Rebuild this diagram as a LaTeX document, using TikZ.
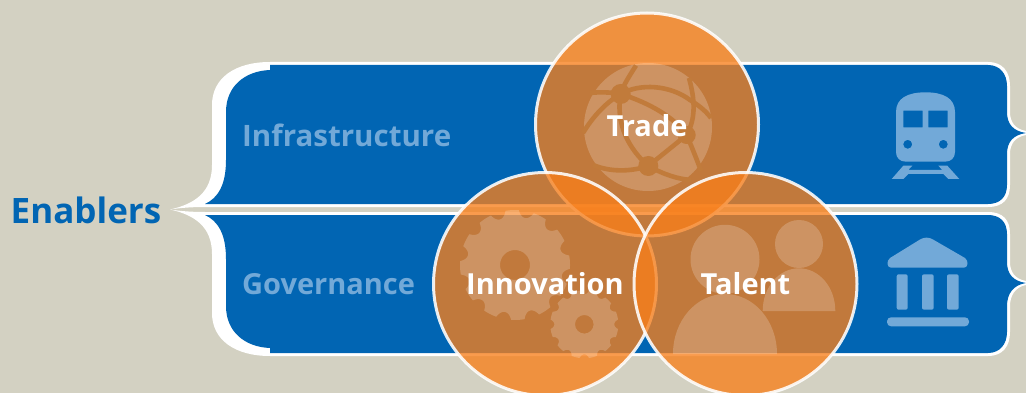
\documentclass[tikz,border=0pt]{standalone}
\usepackage{fontspec}
\setmainfont{Open Sans}[BoldFont={Open Sans Bold}]
\definecolor{bgc}{HTML}{D3D1C2}
\definecolor{bluec}{HTML}{0165B3}
\definecolor{orangec}{HTML}{F87F1B}
\definecolor{overc}{HTML}{C17B3B}
\definecolor{lightc}{HTML}{72A9D8}
\tikzset{
  disc/.style={fill=orangec,fill opacity=.78,draw=white,draw opacity=.88,line width=3pt},
  iconw/.style={fill=white,fill opacity=.2},
  iconb/.style={fill=lightc},
  cut/.style={draw=overc,line width=4.6pt,line cap=butt},
  lab/.style={font=\bfseries,inner sep=0pt,text=white},
  sidelab/.style={font=\bfseries,inner sep=0pt,text=lightc,anchor=west}
}
\begin{document}
\begin{tikzpicture}[x=1pt,y=-1pt]
\useasboundingbox (0,0) rectangle (1026,393);
\clip (0,0) rectangle (1026,393);
\fill[bgc] (0,0) rectangle (1026,393);
% white outlines
\fill[white] (270,62) -- (988,62) .. controls (1003,62) and (1010,72) .. (1010,86) -- (1010,112)
  .. controls (1010,122) and (1015,129) .. (1026,131) -- (1026,135)
  .. controls (1015,137) and (1010,144) .. (1010,154) -- (1010,185)
  .. controls (1010,199) and (1003,207) .. (988,207) -- (205,207)
  .. controls (190,207) and (180,208) .. (170,209.5)
  .. controls (195,204) and (212,192) .. (212,165) -- (212,105)
  .. controls (212,78) and (235,62) .. (270,62) -- cycle;
\fill[white] (270,356) -- (988,356) .. controls (1003,356) and (1010,346) .. (1010,332) -- (1010,306)
  .. controls (1010,296) and (1015,287) .. (1026,285) -- (1026,281)
  .. controls (1015,279) and (1010,272) .. (1010,262) -- (1010,234)
  .. controls (1010,220) and (1003,212) .. (988,212) -- (205,212)
  .. controls (190,212) and (180,211) .. (170,209.5)
  .. controls (195,215) and (212,227) .. (212,254) -- (212,313)
  .. controls (212,340) and (235,356) .. (270,356) -- cycle;
% blue panels
\fill[bluec] (270,65) -- (988,65) .. controls (1000,65) and (1007,74) .. (1007,86) -- (1007,112)
  .. controls (1007,124) and (1013,131) .. (1026,133)
  .. controls (1013,135) and (1007,142) .. (1007,154) -- (1007,185)
  .. controls (1007,197) and (1000,204) .. (988,204) -- (205,204)
  .. controls (218,198) and (226,185) .. (226,160) -- (226,112)
  .. controls (226,86) and (245,71) .. (270,70) -- cycle;
\fill[bluec] (270,353) -- (988,353) .. controls (1000,353) and (1007,344) .. (1007,332) -- (1007,306)
  .. controls (1007,294) and (1013,285) .. (1026,283)
  .. controls (1013,281) and (1007,274) .. (1007,262) -- (1007,234)
  .. controls (1007,222) and (1000,215) .. (988,215) -- (205,215)
  .. controls (218,221) and (226,234) .. (226,259) -- (226,306)
  .. controls (226,332) and (245,347) .. (270,348) -- cycle;
% train icon
\fill[iconb,even odd rule] (896,112) .. controls (896,98) and (908,92.3) .. (925.5,92.3)
  .. controls (943,92.3) and (955,98) .. (955,112) -- (955,152)
  .. controls (955,158) and (951,161.7) .. (945,161.7) -- (906,161.7)
  .. controls (900,161.7) and (896,158) .. (896,152) -- cycle
  (903.3,110.7) rectangle (922.7,127.3)
  (928.3,110.7) rectangle (947.7,127.3)
  (907.7,144.3) circle[radius=4.5pt]
  (943.3,144.3) circle[radius=4.5pt];
\fill[iconb] (912.3,165.7) -- (903.3,165.7) -- (891.7,179) -- (903.3,179) -- (908.3,174)
  -- (943.3,174) -- (948.3,179) -- (959.3,179) -- (947.3,165.7) -- (938.3,165.7) -- (942.3,170)
  -- (908.3,170) -- cycle;
% temple icon
\fill[iconb] (920,239.5) .. controls (924,237) and (929,237) .. (933,239.5) -- (965,258)
  .. controls (969,261) and (968,267.7) .. (964,267.7) -- (891,267.7)
  .. controls (887,267.7) and (886,261) .. (890,258) -- cycle;
\fill[iconb,rounded corners=2pt] (896.7,274.3) rectangle (907.7,309.7);
\fill[iconb,rounded corners=2pt] (922,274.3) rectangle (933.7,309.7);
\fill[iconb,rounded corners=2pt] (947,274.3) rectangle (958.7,309.7);
\fill[iconb,rounded corners=4pt] (887,317.3) rectangle (969,326.3);
% circles
\path[disc] (647,124.5) circle[radius=111.5pt];
\path[disc] (545,284) circle[radius=111.5pt];
\path[disc] (745.5,284) circle[radius=111.5pt];
% globe
\fill[iconw] (648,127) circle[radius=64pt];
\draw[cut] (620.7,94) .. controls (622,88) and (628,78) .. (636,65.5);
\draw[cut] (620.7,94) .. controls (610,92) and (598,92) .. (590,93);
\draw[cut] (620.7,94) .. controls (605,103) and (592,118) .. (583,133);
\draw[cut] (620.7,94) .. controls (640,83) and (670,85) .. (690,100) .. controls (698,105) and (705,110) .. (711,118);
\draw[cut] (620.7,94) .. controls (650,103) and (675,118) .. (686.7,135);
\draw[cut] (620.7,94) .. controls (615,125) and (630,150) .. (648.3,166);
\draw[cut] (648.3,166) .. controls (630,172) and (610,172) .. (593,165);
\draw[cut] (648.3,166) -- (686.7,135);
\draw[cut] (648.3,166) .. controls (665,175) and (678,179) .. (691,180);
\draw[cut] (686.7,135) .. controls (696,118) and (695,100) .. (689,78);
\draw[cut] (686.7,135) .. controls (693,150) and (697,160) .. (701,171);
\fill[overc] (620.7,94) circle[radius=10pt];
\fill[overc] (648.3,166) circle[radius=10pt];
\fill[overc] (686.7,135) circle[radius=9pt];
% gears
\fill[iconw,even odd rule] plot[domain=0:360,samples=361] ({515+(55-7*sqrt(max(0,cos(12*\x-216))))*cos(\x)},{265-(55-7*sqrt(max(0,cos(12*\x-216))))*sin(\x)}) -- cycle
  (515,265) circle[radius=15pt];
\fill[iconw,even odd rule] plot[domain=0:360,samples=361] ({584.3+(34-4*sqrt(max(0,cos(12*\x))))*cos(\x)},{324.3-(34-4*sqrt(max(0,cos(12*\x))))*sin(\x)}) -- cycle
  (584.3,324.3) circle[radius=9.3pt];
% people
\fill[iconw] (725,259.3) circle[radius=34.5pt];
\fill[iconw] (673,354) .. controls (673,321) and (696,294) .. (725,294) .. controls (754,294) and (777,321) .. (777,354) -- cycle;
\fill[iconw] (799,244) circle[radius=24pt];
\fill[iconw] (762.7,311) .. controls (762.7,287) and (779,268.3) .. (799,268.3) .. controls (819,268.3) and (835.3,287) .. (835.3,311) -- cycle;
% labels
\node[inner sep=0pt,font=\bfseries\fontsize{35}{35}\selectfont,text=bluec] (enablers) at (86,210) {Enablers};
\node[sidelab,font=\bfseries\fontsize{29.5}{29.5}\selectfont] (infra) at (242,135) {Infrastructure};
\node[sidelab,font=\bfseries\fontsize{29}{29}\selectfont] (gov) at (242,284) {Governance};
\node[lab,font=\bfseries\fontsize{29}{29}\selectfont] (trade) at (647,126) {Trade};
\node[lab,font=\bfseries\fontsize{29}{29}\selectfont] (innov) at (545,284) {Innovation};
\node[lab,font=\bfseries\fontsize{29}{29}\selectfont] (talent) at (745.5,284) {Talent};
\end{tikzpicture}
\end{document}
